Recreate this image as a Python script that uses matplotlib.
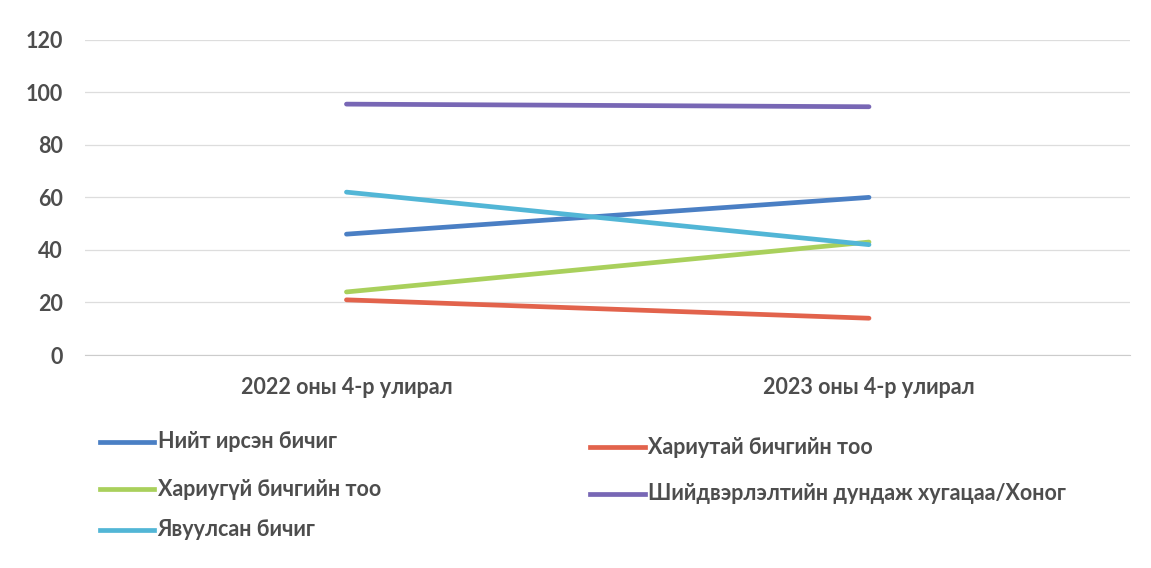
import matplotlib.pyplot as plt
from matplotlib.lines import Line2D

quarters = ['2022 оны 4-р улирал', '2023 оны 4-р улирал']
nit_irsen = [46, 60]
hariutai = [21, 14]
hariugui = [24, 43]
shiidverlelt = [95.5, 94.5]
yavuulsan = [62, 42]

series = [
    ('Нийт ирсэн бичиг', nit_irsen, '#4a7fc4'),
    ('Хариутай бичгийн тоо', hariutai, '#e2634c'),
    ('Хариугүй бичгийн тоо', hariugui, '#a9d05c'),
    ('Шийдвэрлэлтийн дундаж хугацаа/Хоног', shiidverlelt, '#7867b5'),
    ('Явуулсан бичиг', yavuulsan, '#52b6d6'),
]

plt.rcParams['font.family'] = ['Lato', 'DejaVu Sans']
txt = '#4d4d4d'
fs = 15.5

fig = plt.figure(figsize=(11.51, 5.68), dpi=100)
ax = fig.add_axes([0.074, 0.375, 0.908, 0.555])

x = [0.5, 1.5]
for name, vals, c in series:
    ax.plot(x, vals, color=c, linewidth=3.4, solid_capstyle='round')

ax.set_xlim(0, 2)
ax.set_ylim(0, 120)
ax.set_yticks(range(0, 121, 20))
ax.set_xticks(x)
ax.set_xticklabels(quarters, fontsize=fs, fontweight='bold', color=txt)
ax.tick_params(axis='y', labelsize=fs, colors=txt, length=0, pad=16)
ax.tick_params(axis='x', length=0, pad=16)
for lab in ax.get_yticklabels():
    lab.set_fontweight('bold')
ax.grid(axis='y', color='#dddddd', linewidth=0.9)
for s in ['top', 'right', 'left']:
    ax.spines[s].set_visible(False)
ax.spines['bottom'].set_color('#cccccc')

# legend laid out in two columns like the original
pos = [(0.087, 0.222), (0.513, 0.213), (0.087, 0.139), (0.513, 0.131), (0.087, 0.067)]
for (name, vals, c), (px, py) in zip(series, pos):
    fig.add_artist(Line2D([px, px + 0.047], [py, py], color=c, linewidth=3.4,
                          transform=fig.transFigure))
    fig.text(px + 0.050, py, name, fontsize=fs, fontweight='bold', color=txt,
             va='center', ha='left')

fig.savefig('out.png', dpi=100, facecolor='white')
